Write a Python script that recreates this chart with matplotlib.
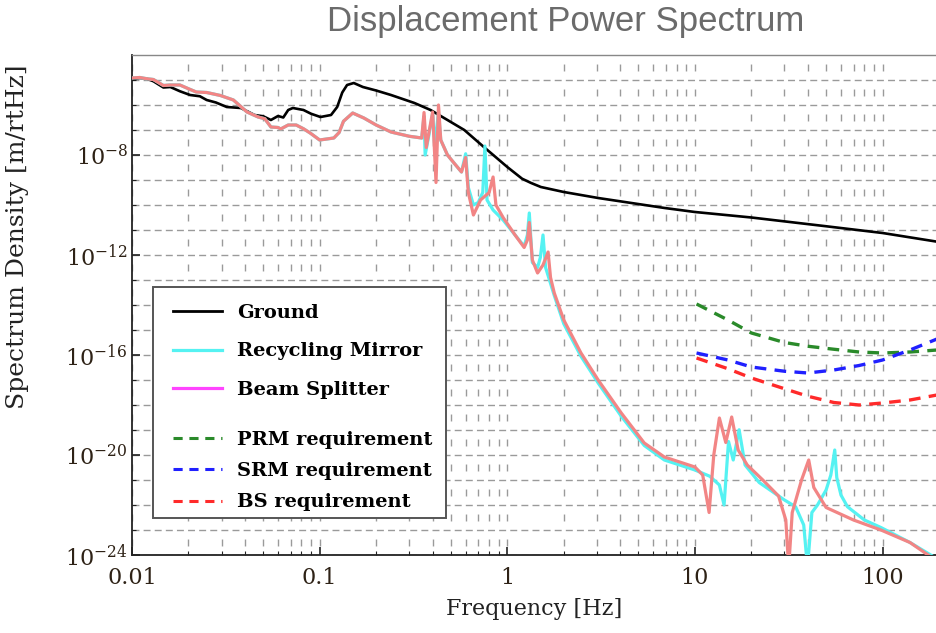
import numpy as np
import matplotlib
matplotlib.use("Agg")
import matplotlib.pyplot as plt
from matplotlib.lines import Line2D
from matplotlib.patches import Rectangle
from matplotlib.ticker import FixedLocator, FuncFormatter, NullFormatter
from matplotlib.font_manager import FontProperties

plt.rcParams['font.family'] = ['DejaVu Serif']
plt.rcParams['mathtext.fontset'] = 'dejavuserif'

# ---------------- data (frequencies in Hz, values as log10 of m/rtHz) -------------
ground_f = [0.01, 0.011, 0.012, 0.013, 0.0147, 0.016, 0.018, 0.0204, 0.023, 0.025, 0.028, 0.032,
            0.038, 0.045, 0.05, 0.055, 0.06, 0.064, 0.068, 0.072, 0.082, 0.09, 0.101, 0.115, 0.124,
            0.132, 0.14, 0.152, 0.17, 0.2, 0.24, 0.32, 0.39, 0.48, 0.59, 0.75, 1.0, 1.2, 1.34, 1.51,
            2.0, 3.05, 6.9, 10, 20, 50, 100, 200]
ground_log = [-4.96, -4.92, -4.95, -5.05, -5.3, -5.28, -5.45, -5.6, -5.65, -5.8, -5.9, -6.08,
              -6.12, -6.4, -6.45, -6.6, -6.44, -6.5, -6.2, -6.12, -6.2, -6.35, -6.48, -6.4, -6.08,
              -5.5, -5.2, -5.12, -5.28, -5.42, -5.6, -5.92, -6.2, -6.6, -7.0, -7.68, -8.48, -8.95, -9.12, -9.28,
              -9.48, -9.72, -10.12, -10.28, -10.5, -10.85, -11.12, -11.48]

rm_f = [0.01, 0.011, 0.012, 0.013, 0.0147, 0.016, 0.018, 0.02, 0.022, 0.025, 0.0296, 0.0347,
        0.041, 0.047, 0.051, 0.055, 0.06, 0.062, 0.068, 0.075, 0.082, 0.089, 0.1, 0.119, 0.127,
        0.134, 0.15, 0.172, 0.2, 0.24, 0.3, 0.35, 0.36, 0.365, 0.38, 0.4, 0.41, 0.43, 0.442, 0.48,
        0.52, 0.57, 0.6, 0.62, 0.66, 0.7, 0.74, 0.76, 0.78, 0.84, 0.95, 1.1, 1.23, 1.28, 1.31,
        1.36, 1.45, 1.5, 1.55, 1.6, 1.78, 2.0, 2.47, 3.05, 4.05, 5.37, 6.87, 10, 12, 13.5, 14.3,
        15.1, 16, 17.2, 18.5, 22, 30, 34.4, 38, 39.8, 42, 45, 50, 53, 55.6, 57, 60, 65, 80, 98,
        140, 190, 200]
rm_log = [-4.92, -4.9, -4.95, -4.98, -5.22, -5.2, -5.2, -5.35, -5.48, -5.5, -5.62, -5.8,
          -6.28, -6.48, -6.55, -6.88, -6.9, -6.96, -6.8, -6.8, -6.95, -7.12, -7.4, -7.32, -7.1,
          -6.65, -6.32, -6.52, -6.8, -7.08, -7.25, -7.32, -6.45, -8.0, -7.3, -6.35, -7.6, -6.3, -7.4, -8.0,
          -8.32, -8.68, -7.95, -9.3, -10.0, -9.9, -9.5, -7.64, -9.8, -10.2, -10.6, -11.2, -11.65, -11.2, -10.32,
          -12.3, -12.5, -12.1, -11.2, -12.5, -13.62, -14.75, -16.05, -17.12, -18.45, -19.62, -20.2, -20.6, -20.85, -21.2, -22.0,
          -19.46, -20.2, -18.99, -20.4, -21.1, -21.8, -22.07, -22.8, -24.5, -22.3, -22.0, -21.4, -20.8, -19.8, -20.9, -21.6, -22.07, -22.6, -22.9,
          -23.5, -24.1, -24.2]

bs_f = [0.01, 0.011, 0.012, 0.013, 0.0147, 0.016, 0.018, 0.02, 0.022, 0.025, 0.0296, 0.0347,
        0.041, 0.047, 0.051, 0.055, 0.06, 0.062, 0.068, 0.075, 0.082, 0.089, 0.1, 0.119, 0.127,
        0.134, 0.15, 0.172, 0.2, 0.24, 0.3, 0.35, 0.36, 0.37, 0.4, 0.417, 0.43, 0.442, 0.48, 0.52,
        0.57, 0.6, 0.62, 0.66, 0.72, 0.8, 0.84, 0.87, 0.95, 1.1, 1.23, 1.28, 1.31, 1.36, 1.45,
        1.55, 1.65, 1.7, 1.78, 2.0, 2.47, 3.05, 4.05, 5.37, 6.87, 10, 11, 11.9, 12.6, 13.5, 14.6,
        15.7, 17, 19, 23, 27.9, 30.5, 31.6, 33, 37, 40.4, 43, 50, 70, 98, 140, 178, 200]
bs_log = [-4.92, -4.9, -4.95, -4.98, -5.22, -5.2, -5.2, -5.35, -5.48, -5.5, -5.62, -5.8,
          -6.28, -6.48, -6.55, -6.88, -6.9, -6.96, -6.8, -6.8, -6.95, -7.12, -7.4, -7.32, -7.1,
          -6.65, -6.32, -6.52, -6.8, -7.08, -7.25, -7.32, -6.3, -7.7, -6.28, -9.1, -6.0, -7.4, -8.0, -8.32,
          -8.68, -8.1, -9.5, -10.4, -9.8, -9.5, -8.88, -10.0, -10.5, -11.2, -11.7, -11.4, -10.7, -12.2, -12.72,
          -12.4, -11.88, -12.9, -13.52, -14.6, -15.92, -17.0, -18.32, -19.52, -20.08, -20.48, -20.8, -22.3, -20.0, -18.52, -19.5,
          -18.48, -19.8, -20.4, -21.0, -21.64, -22.6, -24.5, -22.3, -21.0, -20.2, -21.3, -22.1, -22.6, -23.0, -23.5, -24.04, -24.3]

req_f = [10.2, 15, 20, 30, 40, 55, 75, 100, 140, 195]
prm_log = [-13.96, -14.6, -15.12, -15.5, -15.65, -15.77, -15.88, -15.92, -15.88, -15.8]
srm_log = [-15.92, -16.2, -16.48, -16.65, -16.72, -16.6, -16.42, -16.2, -15.8, -15.36]
bsr_log = [-16.12, -16.55, -16.92, -17.35, -17.65, -17.9, -18.0, -17.92, -17.8, -17.6]

x_ticks = [0.01, 0.1, 1, 10, 100]
x_ticklabels = ['0.01', '0.1', '1', '10', '100']
y_tick_exps = [-24, -20, -16, -12, -8]

# ---------------- figure -------------
fig = plt.figure(figsize=(9.37, 6.33), dpi=100)
ax = fig.add_axes([132/937, 78/633, 805/937, 500/633])
ax.set_xscale('log')
ax.set_yscale('log')
ax.set_xlim(0.01, 195)
ax.set_ylim(1e-24, 1e-4)

def p(v):
    return 10.0 ** np.asarray(v, dtype=float)

ax.plot(ground_f, p(ground_log), color='black', lw=1.9, zorder=3)
ax.plot(rm_f, p(rm_log), color='#55f2f2', lw=2.3, zorder=3)
ax.plot(bs_f, p(bs_log), color='#f28585', lw=2.3, zorder=3)
ax.plot(req_f, p(prm_log), color='#2a8a2a', lw=2.4, ls=(0, (3.5, 2.5)), zorder=3)
ax.plot(req_f, p(srm_log), color='#2020ff', lw=2.4, ls=(0, (3.5, 2.5)), zorder=3)
ax.plot(req_f, p(bsr_log), color='#ff2a2a', lw=2.4, ls=(0, (3.5, 2.5)), zorder=3)

# ticks
ax.xaxis.set_major_locator(FixedLocator(x_ticks))
ax.xaxis.set_major_formatter(FuncFormatter(lambda v, pos: x_ticklabels[x_ticks.index(v)] if v in x_ticks else ''))
xminor = [m * d for d in [0.01, 0.1, 1, 10, 100] for m in range(2, 10)]
ax.xaxis.set_minor_locator(FixedLocator(xminor))
ax.xaxis.set_minor_formatter(NullFormatter())
ax.yaxis.set_major_locator(FixedLocator([10.0 ** e for e in y_tick_exps]))
ax.yaxis.set_major_formatter(FuncFormatter(lambda v, pos: r'$10^{%d}$' % int(round(np.log10(v)))))
ax.yaxis.set_minor_locator(FixedLocator([10.0 ** e for e in range(-23, -4)]))
ax.yaxis.set_minor_formatter(NullFormatter())
ax.tick_params(which='both', direction='in', top=False, right=False, colors='#222222')
ax.tick_params(which='major', length=6, width=1.2, labelsize=16, labelcolor='#2e2216')
ax.tick_params(which='minor', length=3, width=0.8)
ax.tick_params(axis='x', which='major', pad=9)
ax.tick_params(axis='y', which='major', pad=3)

# grid
ax.grid(True, axis='y', which='both', color='#9a9a9a', lw=1.0, ls=(0, (5, 3)), zorder=1)
ax.grid(True, axis='x', which='both', color='#9a9a9a', lw=1.0, ls=(11.5, (5, 13)), zorder=1)
ax.set_axisbelow(True)

for s in ['left', 'bottom']:
    ax.spines[s].set_color('#222222')
    ax.spines[s].set_linewidth(1.3)
for s in ['top', 'right']:
    ax.spines[s].set_color('#888888')
    ax.spines[s].set_linewidth(1.0)

ax.set_xlabel('Frequency [Hz]', fontsize=16, color='#222222', labelpad=6)
ax.set_ylabel('Spectrum Density [m/rtHz]', fontsize=18, color='#222222')
ax.yaxis.set_label_coords(-0.128, 0.636)

fig.text(566/937, 1 - 22/633, 'Displacement Power Spectrum', ha='center', va='center',
         fontsize=25, color='#6b6b6b', family=['Liberation Sans', 'DejaVu Sans'])

# legend frame
ax.add_patch(Rectangle((0.026, 0.074), 0.364, 0.462, transform=ax.transAxes,
                       facecolor='white', edgecolor='#555555', lw=1.4, zorder=4))
lp = FontProperties(family='DejaVu Serif', weight='bold', size=14)
h1 = [Line2D([], [], color='black', lw=2.0),
      Line2D([], [], color='#55f2f2', lw=2.3),
      Line2D([], [], color='#ff44ff', lw=2.3)]
leg1 = ax.legend(h1, ['Ground', 'Recycling Mirror', 'Beam Splitter'], loc='upper left',
                 bbox_to_anchor=(0.051, 0.502), frameon=False, prop=lp, handlelength=2.5,
                 handletextpad=0.8, labelspacing=1.05, borderpad=0, borderaxespad=0)
leg1.set_zorder(5)
ax.add_artist(leg1)
h2 = [Line2D([], [], color='#2a8a2a', lw=2.2, ls=(0, (3, 2.2))),
      Line2D([], [], color='#2020ff', lw=2.2, ls=(0, (3, 2.2))),
      Line2D([], [], color='#ff2a2a', lw=2.2, ls=(0, (3, 2.2)))]
leg2 = ax.legend(h2, ['PRM requirement', 'SRM requirement', 'BS requirement'], loc='upper left',
                 bbox_to_anchor=(0.051, 0.248), frameon=False, prop=lp, handlelength=2.5,
                 handletextpad=0.8, labelspacing=0.68, borderpad=0, borderaxespad=0)
leg2.set_zorder(5)

fig.savefig('out.png', dpi=100, facecolor='white')
